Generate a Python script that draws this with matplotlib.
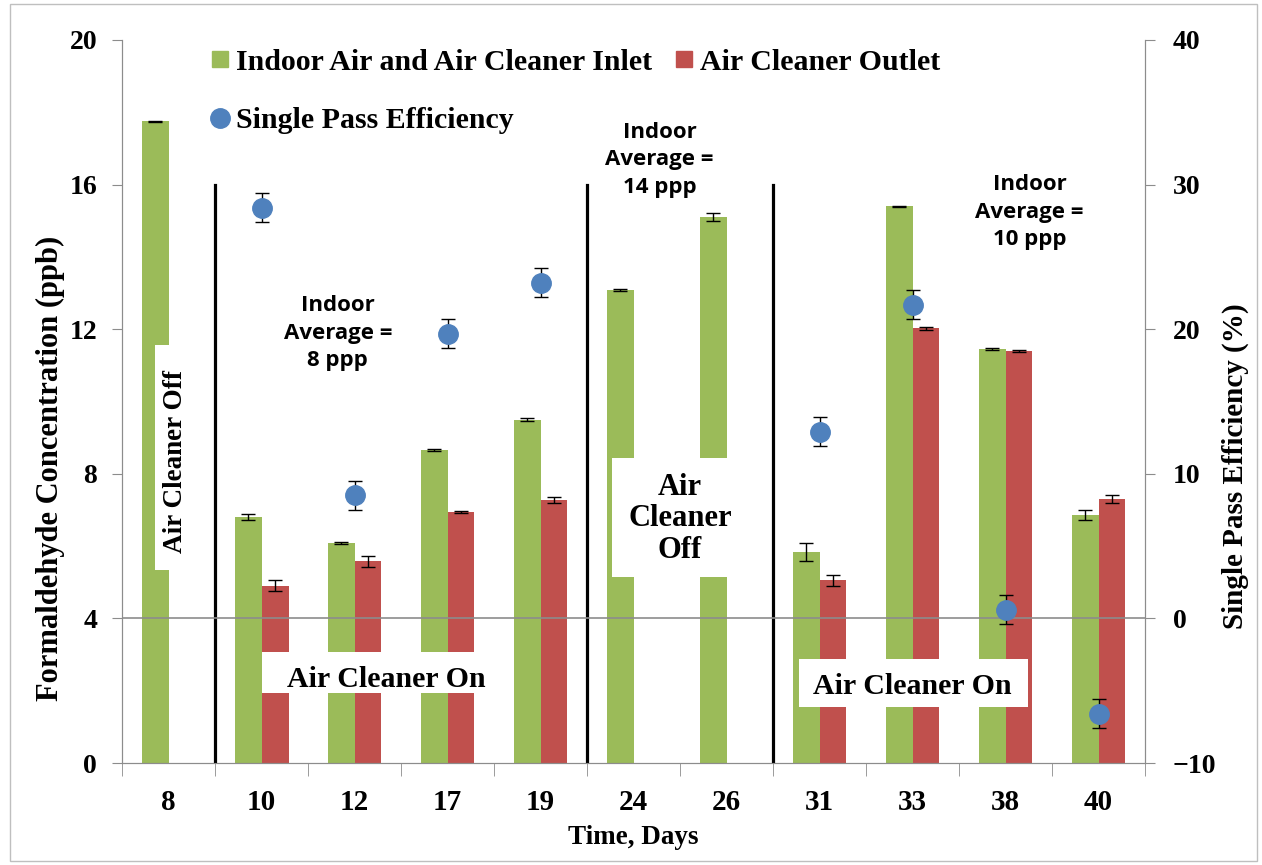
import numpy as np
import matplotlib.pyplot as plt
from matplotlib.lines import Line2D
from matplotlib.patches import Rectangle

## data
days = ["8", "10", "12", "17", "19", "24", "26", "31", "33", "38", "40"]
inlet = [17.75, 6.8, 6.08, 8.66, 9.49, 13.08, 15.1, 5.84, 15.4, 11.45, 6.86]
inlet_err = [0.02, 0.08, 0.02, 0.03, 0.04, 0.02, 0.1, 0.25, 0.01, 0.03, 0.15]
outlet = [np.nan, 4.9, 5.58, 6.94, 7.28, np.nan, np.nan, 5.06, 12.02, 11.4, 7.3]
outlet_err = [0, 0.15, 0.15, 0.03, 0.08, 0, 0, 0.15, 0.04, 0.02, 0.1]
eff = [np.nan, 28.4, 8.5, 19.7, 23.2, np.nan, np.nan, 12.9, 21.7, 0.6, -6.6]
eff_err = [0, 1.0, 1.0, 1.0, 1.0, 0, 0, 1.0, 1.0, 1.0, 1.0]

green = "#9BBB59"
red = "#C0504D"
blue = "#4F81BD"
gray = "#8C8C8C"
serif = "Liberation Serif"
sans = "Open Sans"

fig = plt.figure(figsize=(12.62, 8.65), dpi=100)
ax = fig.add_axes([0.0967, 0.1179, 0.8106, 0.8359])
ax2 = ax.twinx()

x = np.arange(len(days))
w = 0.29
ax.bar(x - w/2, inlet, w, color=green, zorder=2)
ax.bar(x + w/2, outlet, w, color=red, zorder=2)
ax.errorbar(x - w/2, inlet, yerr=inlet_err, fmt="none", ecolor="black", elinewidth=1, capsize=5, zorder=3)
ax.errorbar(x + w/2, outlet, yerr=outlet_err, fmt="none", ecolor="black", elinewidth=1, capsize=5, zorder=3)

ax.set_xlim(-0.5, len(days) - 0.5)
ax.set_ylim(0, 20)
ax.set_yticks([0, 4, 8, 12, 16, 20])
ax2.set_ylim(-10, 40)
ax2.set_yticks([-10, 0, 10, 20, 30, 40])

ax2.axhline(0, color=gray, lw=1.2, zorder=1)
ax2.errorbar(x, eff, yerr=eff_err, fmt="o", color=blue, markersize=14, ecolor="black",
             elinewidth=1, capsize=5, zorder=5)

## period separators
for xv in [0.5, 4.5, 6.5]:
    ax.plot([xv, xv], [0, 16], color="black", lw=2.3, zorder=4)

## white boxes with labels
boxes = [(-0.145, 5.34, 0.55, 6.22), (1.005, 1.94, 2.33, 1.13),
         (4.77, 5.15, 1.3, 3.29), (6.78, 1.55, 2.46, 1.33)]
for bx, by, bw, bh in boxes:
    ax.add_patch(Rectangle((bx, by), bw, bh, facecolor="white", edgecolor="none", zorder=6))

tb = dict(fontfamily=serif, fontweight="bold", ha="center", va="center", zorder=7)
ax.text(0.08, 8.35, "Air Cleaner Off", rotation=90, fontsize=19.5, **tb)
ax.text(2.34, 2.3, "Air Cleaner On", fontsize=21.5, **tb)
ax.text(5.5, 6.75, "Air\nCleaner\nOff", fontsize=22, linespacing=1.12, **tb)
ax.text(8.0, 2.12, "Air Cleaner On", fontsize=21.5, **tb)

ts = dict(fontfamily=sans, fontweight="bold", ha="center", va="center", fontsize=16, linespacing=1.4, zorder=7)
ax.text(1.82, 11.89, "Indoor\nAverage =\n8 ppp", **ts)
ax.text(5.28, 16.68, "Indoor\nAverage =\n14 ppp", **ts)
ax.text(9.26, 15.24, "Indoor\nAverage =\n10 ppp", **ts)

## axes styling
for a in (ax, ax2):
    a.spines["top"].set_visible(False)
    for s in ["left", "right", "bottom"]:
        a.spines[s].set_color(gray)
ax.set_xticks(x)
ax.set_xticklabels(days)
ax.set_xticks(np.arange(-0.5, len(days)), minor=True)
ax.tick_params(axis="x", which="major", length=0, pad=19)
ax.tick_params(axis="x", which="minor", length=9, color=gray, direction="out")
ax.tick_params(axis="y", length=7, color=gray, pad=11)
ax2.tick_params(axis="y", length=7, color=gray, pad=13)
for lab in ax.get_xticklabels():
    lab.set_fontfamily(serif); lab.set_fontweight("bold"); lab.set_fontsize(21)
for lab in ax.get_yticklabels() + ax2.get_yticklabels():
    lab.set_fontfamily(serif); lab.set_fontweight("bold"); lab.set_fontsize(20)

ax.set_xlabel("Time, Days", fontfamily=serif, fontweight="bold", fontsize=19.5, labelpad=6)
ax.set_ylabel("Formaldehyde Concentration (ppb)", fontfamily=serif, fontweight="bold", fontsize=22)
ax.yaxis.set_label_coords(-0.056, 0.408)
ax2.set_ylabel("Single Pass Efficiency (%)", fontfamily=serif, fontweight="bold", fontsize=21)
ax2.yaxis.set_label_coords(1.0753, 0.411)

## legend
handles = [Line2D([], [], marker="s", ls="none", color=green, markersize=12),
           Line2D([], [], marker="o", ls="none", color=blue, markersize=14),
           Line2D([], [], marker="s", ls="none", color=red, markersize=12)]
labels = ["Indoor Air and Air Cleaner Inlet", "Single Pass Efficiency", "Air Cleaner Outlet"]
leg = ax.legend(handles, labels, ncol=2, loc="upper left", bbox_to_anchor=(200/1262, 1 - 37/865),
                bbox_transform=fig.transFigure, frameon=False, handlelength=0.55, handletextpad=0.25,
                labelspacing=1.05, columnspacing=0.8, borderaxespad=0,
                prop=dict(family=serif, weight="bold", size=21.5))
leg.set_zorder(8)

fig.add_artist(Rectangle((0.008, 0.005), 0.988, 0.99, transform=fig.transFigure,
                         facecolor="none", edgecolor="#BFBFBF", lw=1))

plt.savefig("out.png", dpi=100)
